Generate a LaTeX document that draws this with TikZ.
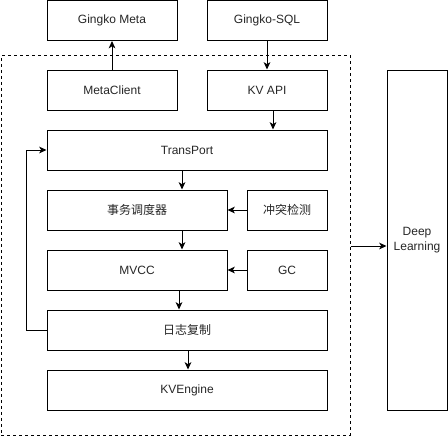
\documentclass[tikz,border=0pt]{standalone}
\usepackage{fontspec}
\setmainfont{Liberation Sans}
\newfontfamily\cjk{Noto Sans CJK SC}
\usetikzlibrary{arrows.meta}
\begin{document}
\begin{tikzpicture}[x=0.75pt,y=-0.75pt,
  box/.style={draw,line width=0.75pt,inner sep=0pt,minimum height=30pt,font=\fontsize{9}{11}\selectfont,text=black!85},
  arr/.style={line width=0.75pt,-{Stealth[length=5.5pt,width=5pt,inset=1.5pt]}},
  link/.style={line width=0.75pt}]
\useasboundingbox (0,0) rectangle (448,436);
\node[draw,dashed,dash pattern=on 2.25pt off 2.25pt,line width=0.75pt,minimum width=261.4pt,minimum height=285pt,inner sep=0pt] (core) at (175.75,245) {};
\node[box,minimum width=97.5pt] (gmeta) at (112,20.5) {Gingko Meta};
\node[box,minimum width=90pt] (gsql) at (267,20.5) {Gingko-SQL};
\node[box,minimum width=97.5pt] (mc) at (112,90) {MetaClient};
\node[box,minimum width=90pt] (kv) at (267,90) {KV API};
\node[box,minimum width=210pt] (tp) at (187,150) {TransPort};
\node[box,minimum width=135pt] (sched) at (137,210) {\cjk 事务调度器};
\node[box,minimum width=60pt] (conf) at (287,210) {\cjk 冲突检测};
\node[box,minimum width=135pt] (mvcc) at (137,270) {MVCC};
\node[box,minimum width=60pt] (gc) at (287,270) {GC};
\node[box,minimum width=210pt] (log) at (187,330) {\cjk 日志复制};
\node[box,minimum width=210pt] (kve) at (187,390) {KVEngine};
\node[box,minimum width=45pt,minimum height=255pt,align=center] (dl) at (417,240) {Deep\\Learning};
\draw[arr] (mc.north) -- (gmeta.south);
\draw[arr] (gsql.south) -- (kv.north);
\draw[arr] ([xshift=4.5pt]kv.south) -- ([xshift=4.5pt]kv.south |- tp.north);
\draw[arr] ([xshift=33.75pt]sched.north |- tp.south) -- ([xshift=33.75pt]sched.north);
\draw[arr] (conf.west) -- (sched.east);
\draw[arr] ([xshift=33.75pt]sched.south) -- ([xshift=33.75pt]mvcc.north);
\draw[arr] (gc.west) -- (mvcc.east);
\draw[arr] ([xshift=31.5pt]mvcc.south) -- ([xshift=31.5pt]mvcc.south |- log.north);
\draw[arr] ([xshift=0.75pt]log.south) -- ([xshift=0.75pt]kve.north);
\draw[arr] (log.west) -- ++(-20,0) |- (tp.west);
\coordinate (dlin) at ([yshift=-4.5pt]dl.west);
\draw[arr] (core.east |- dlin) -- (dlin);
\end{tikzpicture}
\end{document}
